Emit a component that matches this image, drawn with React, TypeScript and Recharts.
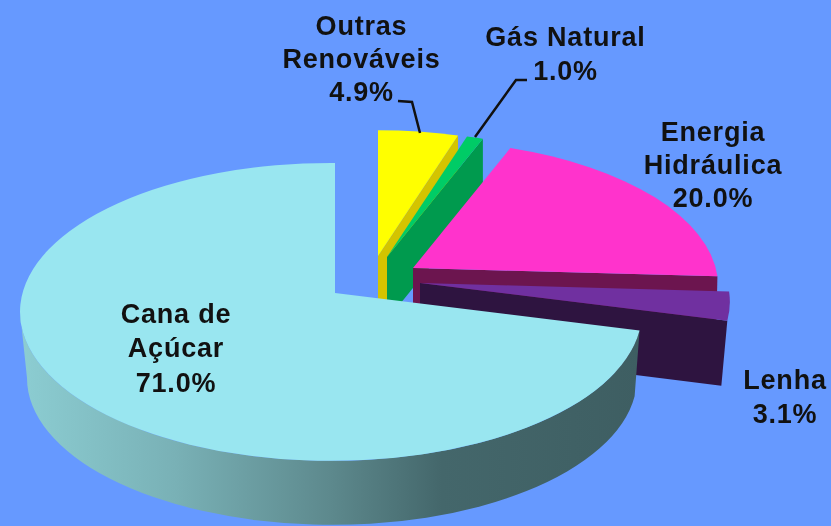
import React from "react";
import { PieChart, Pie } from "recharts";

const names = ["Outras Renováveis", "Gás Natural", "Energia Hidráulica", "Lenha", "Cana de Açúcar"];
const shares = [4.9, 1.0, 20.0, 3.1, 71.0];

const topColors = ["#ffff00", "#00cc66", "#ff33cc", "#7030a0", "#99e6f0"];
const wallColors = ["#d4c400", "#009a4e", "#6c154f", "#2e1440", "url(#rimGrad)"];

// quanto cada fatia sai do centro (perspectiva: as de trás ficam menores)
const explodeX = [43, 52, 78, 85, 0];
const explodeY = [-37, -36, -25, -10, 0];
const scales = [0.96, 0.96, 0.975, 0.99, 0.9936];
const depths = [63, 63, 45, 65, 66];
const wallShrink = [0, 0, 1, 6, 0];
const centerShift = [0, 0, 0, 0, -4];

const labelLines = [["Outras", "Renováveis", "4.9%"], ["Gás Natural", "1.0%"], ["Energia", "Hidráulica", "20.0%"], ["Lenha", "3.1%"], ["Cana de", "Açúcar", "71.0%"]];
const labelX = [361.5, 565.5, 713, 785, 176];
const labelY = [[35, 68, 101], [46, 80], [141, 174, 207], [389, 423], [323, 357, 392]];
const leaders = ["398,101 412,102 420,133", "527,80 516,80 475,137", "", "", ""];

const data = names.map((name, i) => ({ name, value: shares[i], idx: i }));

const TILT = 0.479;
const APEX_DROP = 19;

// ponto da borda da elipse na direção do ângulo (em graus, a partir do topo, horário)
const rimPoint = (ax: number, ay: number, r: number, scale: number, shift: number, clock: number) => {
  const rad = (clock * Math.PI) / 180;
  const rx = r * scale;
  const ry = r * TILT * scale;
  const k = APEX_DROP * scale;
  const dx = r * Math.sin(rad);
  const dy = -r * TILT * Math.cos(rad);
  const a = (dx * dx) / (rx * rx) + (dy * dy) / (ry * ry);
  const b = -2 * ((shift * dx) / (rx * rx) + (k * dy) / (ry * ry));
  const c = (shift * shift) / (rx * rx) + (k * k) / (ry * ry) - 1;
  const t = (-b + Math.sqrt(b * b - 4 * a * c)) / (2 * a);
  return { x: ax + t * dx, y: ay + t * dy, rx, ry, k };
};

const PieSlice = (props: any) => {
  const { cx, cy, outerRadius, startAngle, endAngle, payload } = props;
  const i = payload.idx;
  const scale = scales[i];
  const shift = centerShift[i];
  const ax = cx + explodeX[i];
  const ay = cy + explodeY[i];
  const depth = depths[i];
  const clock0 = 90 - startAngle;
  const clock1 = 90 - endAngle;
  const p0 = rimPoint(ax, ay, outerRadius, scale, shift, clock0);
  const p1 = rimPoint(ax, ay, outerRadius, scale, shift, clock1);
  const { rx, ry, k } = p0;
  const isLarge = clock1 - clock0 > 180;
  const top = `M${ax},${ay} L${p0.x},${p0.y} A${rx},${ry} 0 ${isLarge ? 1 : 0} 1 ${p1.x},${p1.y} Z`;

  if (isLarge) {
    // parede externa da fatia grande, da ponta direita até o extremo esquerdo
    const ex = ax + shift;
    const ey = ay + k;
    const brx = rx - 6;
    const bry = ry - 2;
    const bcx = ex + 1;
    const bcy = ey + depth;
    const tx = bcx + (brx * (p0.x - ex)) / rx;
    const ty = bcy + (bry * (p0.y - ey)) / ry;
    const rim = `M${p0.x},${p0.y} A${rx},${ry} 0 0 1 ${ex - rx},${ey} L${bcx - brx},${bcy} A${brx},${bry} 0 0 0 ${tx},${ty} Z`;
    return (
      <g>
        <path d={rim} fill={wallColors[i]} />
        <path d={top} fill={topColors[i]} />
      </g>
    );
  }

  const wall = `M${ax},${ay} L${p1.x},${p1.y} L${p1.x - wallShrink[i]},${p1.y + depth} L${ax},${ay + depth} Z`;
  return (
    <g>
      <path d={wall} fill={wallColors[i]} />
      <path d={top} fill={topColors[i]} />
    </g>
  );
};

const SliceLabel = (props: any) => {
  const i = props.payload?.idx ?? props.index;
  return (
    <g>
      {leaders[i] && <polyline points={leaders[i]} fill="none" stroke="#111" strokeWidth={2.5} />}
      <text textAnchor="middle" fontFamily="Liberation Sans" fontWeight="bold" fontSize={27} letterSpacing={0.8} fill="#111">
        {labelLines[i].map((line, n) => (
          <tspan key={n} x={labelX[i]} y={labelY[i][n]}>{line}</tspan>
        ))}
      </text>
    </g>
  );
};

export default function App() {
  return (
    <div style={{ position: "fixed", left: 0, top: 0, width: 831, height: 526, background: "#6699ff", overflow: "hidden", filter: "blur(0.5px)" }}>
      <PieChart width={831} height={526} margin={{ top: 0, right: 0, bottom: 0, left: 0 }}>
        <defs>
          <linearGradient id="rimGrad" gradientUnits="userSpaceOnUse" x1="20" y1="0" x2="640" y2="0">
            <stop offset="0%" stopColor="#8ccdd2" />
            <stop offset="25%" stopColor="#79b1b6" />
            <stop offset="50%" stopColor="#5d898d" />
            <stop offset="68%" stopColor="#44676b" />
            <stop offset="100%" stopColor="#3e5e62" />
          </linearGradient>
        </defs>
        <Pie
          data={data}
          dataKey="value"
          nameKey="name"
          cx={335}
          cy={293}
          outerRadius={313}
          startAngle={90}
          endAngle={-270}
          stroke="none"
          shape={PieSlice}
          label={SliceLabel}
          labelLine={false}
          isAnimationActive={false}
        />
      </PieChart>
    </div>
  );
}
